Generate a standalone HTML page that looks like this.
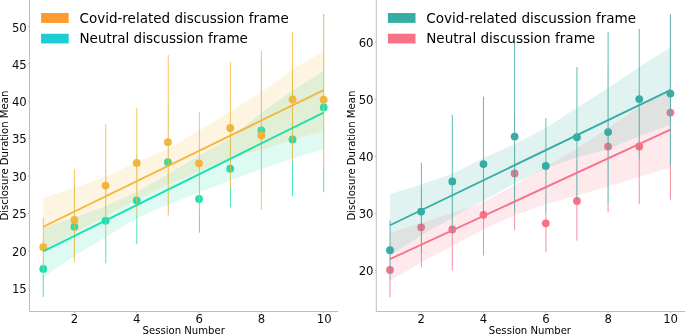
<!DOCTYPE html>
<html lang="en"><head><meta charset="utf-8"><title>Disclosure Duration Mean by Session Number</title>
<style>html,body{margin:0;padding:0;background:#fff}svg{display:block;will-change:transform}</style></head>
<body>
<svg width="685" height="334" viewBox="0 0 685 334" font-family="'DejaVu Sans', 'Liberation Sans', sans-serif">
<rect width="685" height="334" fill="#fff"/>
<g id="left">
<g fill="#1DDFAF" fill-opacity="1">
<circle cx="43.25" cy="268.91" r="3.9"/>
<circle cx="74.41" cy="226.71" r="3.9"/>
<circle cx="105.57" cy="220.72" r="3.9"/>
<circle cx="136.73" cy="200.52" r="3.9"/>
<circle cx="167.89" cy="162.13" r="3.9"/>
<circle cx="199.05" cy="199.02" r="3.9"/>
<circle cx="230.21" cy="168.71" r="3.9"/>
<circle cx="261.37" cy="130.4" r="3.9"/>
<circle cx="292.53" cy="139.38" r="3.9"/>
<circle cx="323.69" cy="107.43" r="3.9"/>
</g>
<polygon points="43.25,227.01 74.41,217.58 105.57,206.35 136.73,191.91 167.89,174.33 199.05,155.47 230.21,138.18 261.37,112.74 292.53,90.59 323.69,70.76 323.69,149.26 292.53,158.61 261.37,169.09 230.21,180.54 199.05,192.28 167.89,204.78 136.73,217.95 105.57,237.18 74.41,255.89 43.25,277.14" fill="#1DDFAF" fill-opacity="0.15"/>
<g fill="#F5B63A" fill-opacity="1">
<circle cx="43.25" cy="247.21" r="3.9"/>
<circle cx="74.41" cy="219.97" r="3.9"/>
<circle cx="105.57" cy="185.55" r="3.9"/>
<circle cx="136.73" cy="162.88" r="3.9"/>
<circle cx="167.89" cy="142.15" r="3.9"/>
<circle cx="199.05" cy="163.33" r="3.9"/>
<circle cx="230.21" cy="128.01" r="3.9"/>
<circle cx="261.37" cy="135.49" r="3.9"/>
<circle cx="292.53" cy="99.5" r="3.9"/>
<circle cx="323.69" cy="99.64" r="3.9"/>
</g>
<polygon points="43.25,197.75 74.41,187.79 105.57,176.57 136.73,162.13 167.89,148.96 199.05,130.47 230.21,111.39 261.37,92.01 292.53,69.56 323.69,51.01 323.69,131 292.53,139.98 261.37,149.56 230.21,158.61 199.05,171.33 167.89,184.8 136.73,199.77 105.57,216.23 74.41,232.69 43.25,249.9" fill="#F5B63A" fill-opacity="0.15"/>
<g stroke="#1DDFAF" stroke-opacity="0.85" stroke-width="0.95">
<line x1="43.25" x2="43.25" y1="273.85" y2="297.05"/>
<line x1="105.75" x2="105.75" y1="236.43" y2="263.37"/>
<line x1="136.81" x2="136.81" y1="215.56" y2="243.92"/>
<line x1="199.4" x2="199.4" y1="208.75" y2="232.69"/>
<line x1="230.41" x2="230.41" y1="188.02" y2="207.25"/>
<line x1="292.53" x2="292.53" y1="160.86" y2="196.47"/>
<line x1="323.69" x2="323.69" y1="166.62" y2="192.28"/>
<line x1="323.69" x2="323.69" y1="14.19" y2="19.65"/>
</g>
<g stroke="#F5B63A" stroke-opacity="0.85" stroke-width="0.95">
<line x1="43.25" x2="43.25" y1="217.73" y2="240.92"/>
<line x1="74.45" x2="74.45" y1="258.88" y2="262.1"/>
<line x1="74.45" x2="74.45" y1="169.09" y2="181.81"/>
<line x1="105.75" x2="105.75" y1="124.19" y2="169.61"/>
<line x1="136.81" x2="136.81" y1="107.95" y2="153.37"/>
<line x1="168.24" x2="168.24" y1="214.73" y2="215.56"/>
<line x1="168.24" x2="168.24" y1="55.05" y2="106.23"/>
<line x1="199.4" x2="199.4" y1="111.99" y2="165.35"/>
<line x1="230.41" x2="230.41" y1="62.08" y2="124.19"/>
<line x1="261.37" x2="261.37" y1="192.28" y2="209.72"/>
<line x1="261.37" x2="261.37" y1="51.01" y2="59.09"/>
<line x1="292.53" x2="292.53" y1="32.15" y2="72.56"/>
</g>
<g stroke="#D9BB49" stroke-opacity="0.98" stroke-width="0.95">
<line x1="43.25" x2="43.25" y1="240.92" y2="273.85"/>
<line x1="74.45" x2="74.45" y1="181.81" y2="258.88"/>
<line x1="105.75" x2="105.75" y1="169.61" y2="236.43"/>
<line x1="136.81" x2="136.81" y1="153.37" y2="215.56"/>
<line x1="168.24" x2="168.24" y1="106.23" y2="214.73"/>
<line x1="199.4" x2="199.4" y1="165.35" y2="208.75"/>
<line x1="230.41" x2="230.41" y1="124.19" y2="188.02"/>
<line x1="261.37" x2="261.37" y1="59.09" y2="192.28"/>
<line x1="292.53" x2="292.53" y1="72.56" y2="160.86"/>
<line x1="323.69" x2="323.69" y1="19.65" y2="166.62"/>
</g>
<line x1="43.25" y1="251.4" x2="323.69" y2="112.59" stroke="#1DDFAF" stroke-width="1.85"/>
<line x1="43.25" y1="226.71" x2="323.69" y2="90.14" stroke="#F5B63A" stroke-width="1.85"/>
<g stroke="#bcbcbc" stroke-width="1" fill="none">
<line x1="29.5" y1="0" x2="29.5" y2="311.5"/>
<line x1="29.5" y1="311.5" x2="338.1" y2="311.5"/>
<line x1="28.1" y1="288.31" x2="29.5" y2="288.31"/>
<line x1="28.1" y1="250.9" x2="29.5" y2="250.9"/>
<line x1="28.1" y1="213.49" x2="29.5" y2="213.49"/>
<line x1="28.1" y1="176.08" x2="29.5" y2="176.08"/>
<line x1="28.1" y1="138.67" x2="29.5" y2="138.67"/>
<line x1="28.1" y1="101.26" x2="29.5" y2="101.26"/>
<line x1="28.1" y1="63.85" x2="29.5" y2="63.85"/>
<line x1="28.1" y1="26.44" x2="29.5" y2="26.44"/>
<line x1="74.41" y1="311.5" x2="74.41" y2="312.9"/>
<line x1="136.73" y1="311.5" x2="136.73" y2="312.9"/>
<line x1="199.05" y1="311.5" x2="199.05" y2="312.9"/>
<line x1="261.37" y1="311.5" x2="261.37" y2="312.9"/>
<line x1="323.69" y1="311.5" x2="323.69" y2="312.9"/>
</g>
<g font-size="11.7" fill="#0d0d0d">
<text x="26.75" y="293.06" text-anchor="end">15</text>
<text x="26.75" y="255.65" text-anchor="end">20</text>
<text x="26.75" y="218.24" text-anchor="end">25</text>
<text x="26.75" y="180.83" text-anchor="end">30</text>
<text x="26.75" y="143.42" text-anchor="end">35</text>
<text x="26.75" y="106.01" text-anchor="end">40</text>
<text x="26.75" y="68.6" text-anchor="end">45</text>
<text x="26.75" y="32.09" text-anchor="end">50</text>
<text x="74.51" y="322.7" text-anchor="middle">2</text>
<text x="136.83" y="322.7" text-anchor="middle">4</text>
<text x="199.15" y="322.7" text-anchor="middle">6</text>
<text x="261.47" y="322.7" text-anchor="middle">8</text>
<text x="324.29" y="322.7" text-anchor="middle">10</text>
</g>
<rect x="41.1" y="13.05" width="27.6" height="9.85" fill="#FF9A2E"/>
<rect x="41.1" y="33.75" width="27.6" height="9.7" fill="#1CCDD3"/>
<g font-size="13.51" fill="#000">
<text x="79.5" y="22.9">Covid-related discussion frame</text>
<text x="79.5" y="43.3">Neutral discussion frame</text>
</g>
<text x="183.7" y="333.8" font-size="10.1" text-anchor="middle" fill="#000">Session Number</text>
<text transform="translate(8.1,155.6) rotate(-90)" font-size="10.1" text-anchor="middle" fill="#000">Disclosure Duration Mean</text>
</g>
<g id="right">
<g fill="#F77189" fill-opacity="1">
<circle cx="390" cy="269.92" r="3.9"/>
<circle cx="421.15" cy="227.3" r="3.9"/>
<circle cx="452.31" cy="229.4" r="3.9"/>
<circle cx="483.47" cy="214.84" r="3.9"/>
<circle cx="514.62" cy="173.47" r="3.9"/>
<circle cx="545.77" cy="223.37" r="3.9"/>
<circle cx="576.93" cy="200.9" r="3.9"/>
<circle cx="608.09" cy="146.61" r="3.9"/>
<circle cx="639.24" cy="146.5" r="3.9"/>
<circle cx="670.39" cy="112.59" r="3.9"/>
</g>
<polygon points="390,232.99 421.15,222.97 452.31,213.02 469.45,207.61 483.47,201.92 514.62,185.19 545.77,166.7 576.93,148.43 608.09,127.78 639.24,106.9 670.39,87.38 670.39,167.5 639.24,177 608.09,186.56 576.93,195.49 545.77,204.2 514.62,215.18 483.47,229.57 469.45,236.97 452.31,246.02 421.15,262.23 390,281.01" fill="#F77189" fill-opacity="0.15"/>
<g fill="#36ADA4" fill-opacity="1">
<circle cx="390" cy="250.17" r="3.9"/>
<circle cx="421.15" cy="211.59" r="3.9"/>
<circle cx="452.31" cy="181.44" r="3.9"/>
<circle cx="483.47" cy="164.08" r="3.9"/>
<circle cx="514.62" cy="136.6" r="3.9"/>
<circle cx="545.77" cy="165.9" r="3.9"/>
<circle cx="576.93" cy="137.17" r="3.9"/>
<circle cx="608.09" cy="132.1" r="3.9"/>
<circle cx="639.24" cy="99.1" r="3.9"/>
<circle cx="670.39" cy="93.53" r="3.9"/>
</g>
<polygon points="390,194.12 421.15,184.57 452.31,173.81 469.45,165.05 483.47,157.88 514.62,144.17 545.77,127.95 576.93,107.75 608.09,88.01 639.24,66.95 670.39,47.15 670.39,125.1 639.24,135.92 608.09,149.34 576.93,157.14 545.77,168.52 514.62,183.37 483.47,200.78 469.45,207.61 452.31,217.85 421.15,235.38 390,255.41" fill="#36ADA4" fill-opacity="0.15"/>
<g stroke="#F77189" stroke-opacity="0.85" stroke-width="0.95">
<line x1="390" x2="390" y1="279.87" y2="297.23"/>
<line x1="421.4" x2="421.4" y1="254.38" y2="267.35"/>
<line x1="452.31" x2="452.31" y1="234.35" y2="270.54"/>
<line x1="483.47" x2="483.47" y1="217.28" y2="255.41"/>
<line x1="514.62" x2="514.62" y1="212.16" y2="230.14"/>
<line x1="545.92" x2="545.92" y1="213.3" y2="252.39"/>
<line x1="576.93" x2="576.93" y1="200.21" y2="240.73"/>
<line x1="608.09" x2="608.09" y1="203.29" y2="212.16"/>
<line x1="639.24" x2="639.24" y1="159.47" y2="204.2"/>
<line x1="670.39" x2="670.39" y1="165.11" y2="199.64"/>
<line x1="670.39" x2="670.39" y1="13.87" y2="14.72"/>
</g>
<g stroke="#36ADA4" stroke-opacity="0.85" stroke-width="0.95">
<line x1="390" x2="390" y1="220.41" y2="242.6"/>
<line x1="421.4" x2="421.4" y1="162.66" y2="187.13"/>
<line x1="452.31" x2="452.31" y1="114.86" y2="188.26"/>
<line x1="483.47" x2="483.47" y1="96.65" y2="174.04"/>
<line x1="514.62" x2="514.62" y1="41.46" y2="116"/>
<line x1="545.92" x2="545.92" y1="117.88" y2="194.52"/>
<line x1="576.93" x2="576.93" y1="67.07" y2="160.95"/>
<line x1="608.09" x2="608.09" y1="31.79" y2="66.5"/>
<line x1="639.24" x2="639.24" y1="28.94" y2="88.69"/>
</g>
<g stroke="#4FA5A0" stroke-opacity="0.98" stroke-width="0.95">
<line x1="390" x2="390" y1="242.6" y2="279.87"/>
<line x1="421.4" x2="421.4" y1="187.13" y2="254.38"/>
<line x1="452.31" x2="452.31" y1="188.26" y2="234.35"/>
<line x1="483.47" x2="483.47" y1="174.04" y2="217.28"/>
<line x1="514.62" x2="514.62" y1="116" y2="212.16"/>
<line x1="545.92" x2="545.92" y1="194.52" y2="213.3"/>
<line x1="576.93" x2="576.93" y1="160.95" y2="200.21"/>
<line x1="608.09" x2="608.09" y1="66.5" y2="203.29"/>
<line x1="639.24" x2="639.24" y1="88.69" y2="159.47"/>
<line x1="670.39" x2="670.39" y1="14.72" y2="165.11"/>
</g>
<line x1="390" y1="259.1" x2="670.39" y2="129.66" stroke="#F77189" stroke-width="1.85"/>
<line x1="390" y1="225.25" x2="670.39" y2="90.11" stroke="#36ADA4" stroke-width="1.85"/>
<g stroke="#bcbcbc" stroke-width="1" fill="none">
<line x1="376.25" y1="0" x2="376.25" y2="311.5"/>
<line x1="376.25" y1="311.5" x2="686" y2="311.5"/>
<line x1="374.85" y1="270.45" x2="376.25" y2="270.45"/>
<line x1="374.85" y1="213.39" x2="376.25" y2="213.39"/>
<line x1="374.85" y1="156.33" x2="376.25" y2="156.33"/>
<line x1="374.85" y1="99.27" x2="376.25" y2="99.27"/>
<line x1="374.85" y1="42.21" x2="376.25" y2="42.21"/>
<line x1="421.15" y1="311.5" x2="421.15" y2="312.9"/>
<line x1="483.47" y1="311.5" x2="483.47" y2="312.9"/>
<line x1="545.77" y1="311.5" x2="545.77" y2="312.9"/>
<line x1="608.09" y1="311.5" x2="608.09" y2="312.9"/>
<line x1="670.39" y1="311.5" x2="670.39" y2="312.9"/>
</g>
<g font-size="11.7" fill="#0d0d0d">
<text x="373.5" y="275.2" text-anchor="end">20</text>
<text x="373.5" y="218.14" text-anchor="end">30</text>
<text x="373.5" y="161.08" text-anchor="end">40</text>
<text x="373.5" y="104.02" text-anchor="end">50</text>
<text x="373.5" y="46.96" text-anchor="end">60</text>
<text x="421.25" y="322.7" text-anchor="middle">2</text>
<text x="483.57" y="322.7" text-anchor="middle">4</text>
<text x="545.88" y="322.7" text-anchor="middle">6</text>
<text x="608.19" y="322.7" text-anchor="middle">8</text>
<text x="670.6" y="322.7" text-anchor="middle">10</text>
</g>
<rect x="387.9" y="13.05" width="27.6" height="9.85" fill="#36ADA4"/>
<rect x="387.9" y="33.75" width="27.6" height="9.7" fill="#F77189"/>
<g font-size="13.56" fill="#000">
<text x="426.2" y="22.9">Covid-related discussion frame</text>
<text x="426.2" y="43.3">Neutral discussion frame</text>
</g>
<text x="529.9" y="333.8" font-size="10.1" text-anchor="middle" fill="#000">Session Number</text>
<text transform="translate(354.8,155.6) rotate(-90)" font-size="10.1" text-anchor="middle" fill="#000">Disclosure Duration Mean</text>
</g>
</svg>
</body></html>
